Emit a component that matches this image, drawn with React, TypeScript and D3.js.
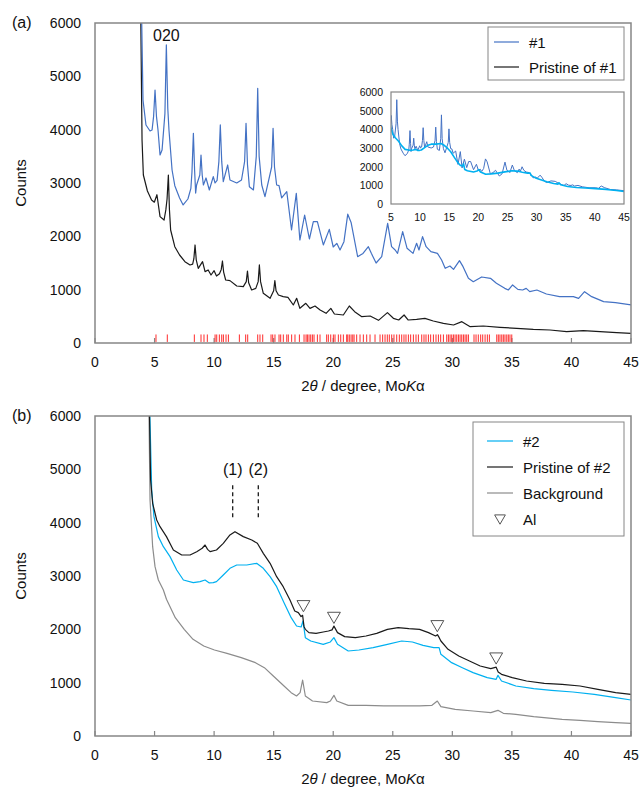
import * as d3 from "d3";
import { useEffect, useRef } from "react";

type Pt = [number, number];

// 2theta (deg) vs counts
const sample1: Pt[] = [
  [3.85, 7000], [4.03, 4556], [4.28, 4088], [4.62, 3975], [4.79, 3994], [4.92, 4250], [5.04, 4744],
  [5.16, 4250], [5.29, 3994], [5.46, 3525], [5.63, 3619], [5.87, 4300], [5.99, 5588], [6.11, 4400],
  [6.21, 3994], [6.47, 3244], [6.7, 2950], [7.1, 2719], [7.4, 2588], [7.8, 2700], [8.05, 2900],
  [8.14, 3200], [8.26, 3932], [8.36, 3250], [8.45, 2812], [8.53, 2963], [8.8, 3150], [8.9, 3525],
  [9.0, 3150], [9.1, 2963], [9.32, 3094], [9.6, 2869], [9.93, 3119], [10.08, 3000], [10.25, 3050],
  [10.4, 3400], [10.52, 4088], [10.64, 3400], [10.77, 3025], [11.14, 3338], [11.33, 3056], [11.9, 3000],
  [12.3, 3056], [12.56, 3400], [12.68, 4119], [12.8, 3350], [12.96, 2931], [13.3, 2869], [13.54, 3500],
  [13.66, 4775], [13.78, 3500], [14.0, 2963], [14.27, 2744], [14.83, 3300], [14.95, 4025], [15.07, 3300],
  [15.25, 2963], [15.45, 2950], [15.67, 2719], [16.1, 2838], [16.5, 2119], [16.9, 2806], [17.2, 1931],
  [17.6, 2400], [18.0, 1950], [18.33, 2275], [18.67, 2275], [19.17, 1838], [19.67, 2130], [20.0, 1800],
  [20.3, 1869], [20.57, 1744], [20.9, 1900], [21.22, 2415], [21.5, 2260], [22.05, 1619], [22.5, 1680],
  [22.95, 1806], [23.2, 1681], [23.6, 1500], [24.07, 1619], [24.57, 2244], [24.9, 1806], [25.2, 1744],
  [25.4, 1681], [25.83, 2088], [26.2, 1775], [26.7, 1681], [27.0, 1869], [27.2, 1744], [27.5, 1994],
  [27.8, 1806], [28.2, 1713], [28.75, 1681], [29.1, 1556], [29.4, 1400], [29.8, 1444], [30.1, 1381],
  [30.6, 1544], [30.9, 1431], [31.35, 1213], [31.76, 1150], [32.46, 1238], [33.2, 1213], [33.7, 1119],
  [34.4, 1025], [34.7, 994], [35.06, 1088], [35.5, 1006], [35.9, 994], [36.2, 1025], [36.5, 963],
  [37.1, 994], [37.9, 919], [39.0, 869], [40.16, 869], [40.6, 838], [41.1, 963], [41.7, 869],
  [42.7, 775], [43.7, 756], [45.0, 713],
];

const pristine1: Pt[] = [
  [3.8, 7000], [3.95, 3800], [4.06, 3150], [4.4, 2850], [4.75, 2680], [4.98, 2640], [5.2, 2780],
  [5.46, 2369], [5.8, 2306], [5.95, 2500], [6.05, 2700], [6.16, 3150], [6.25, 2500], [6.35, 2119],
  [6.7, 1806], [7.1, 1650], [7.55, 1525], [7.98, 1463], [8.2, 1480], [8.3, 1580], [8.4, 1838],
  [8.5, 1560], [8.67, 1400], [9.03, 1525], [9.24, 1338], [9.5, 1369], [9.74, 1275], [10.0, 1356],
  [10.2, 1256], [10.45, 1300], [10.6, 1380], [10.7, 1538], [10.8, 1330], [10.97, 1181], [11.33, 1169],
  [11.9, 1069], [12.45, 1056], [12.7, 1150], [12.8, 1350], [12.9, 1130], [13.15, 994], [13.5, 1025],
  [13.7, 1150], [13.8, 1463], [13.9, 1150], [14.13, 931], [14.7, 838], [15.0, 980], [15.1, 1169],
  [15.2, 980], [15.4, 900], [15.8, 869], [16.2, 856], [16.65, 713], [16.93, 838], [17.2, 650],
  [17.7, 744], [18.05, 650], [18.47, 694], [18.9, 619], [19.4, 556], [19.8, 650], [20.1, 544],
  [20.85, 525], [21.35, 694], [21.8, 588], [22.4, 494], [23.1, 506], [23.8, 425], [24.55, 569],
  [25.05, 463], [25.5, 431], [25.95, 525], [26.3, 431], [27.0, 444], [27.7, 463], [28.4, 413],
  [29.25, 369], [30.1, 338], [30.8, 400], [31.5, 306], [32.6, 319], [34.0, 294], [35.4, 275],
  [36.8, 256], [38.2, 244], [39.6, 213], [41.0, 231], [42.4, 213], [43.8, 194], [45, 181],
];

const sample2: Pt[] = [
  [4.5, 7000], [4.76, 4613], [4.95, 4113], [5.32, 3738], [5.74, 3550], [6.3, 3363], [6.86, 3113],
  [7.42, 2925], [8.25, 2875], [8.82, 2894], [9.24, 2925], [9.6, 2870], [9.93, 2875], [10.2, 2894],
  [10.77, 3019], [11.33, 3144], [11.9, 3206], [12.74, 3206], [13.57, 3238], [14.13, 3144], [14.7, 2988],
  [15.25, 2800], [15.87, 2500], [16.47, 2219], [16.92, 2063], [17.31, 2044], [17.46, 2156], [17.66, 1844],
  [18.11, 1781], [19.16, 1719], [19.76, 1763], [20.06, 1844], [20.36, 1719], [21.26, 1594], [22.16, 1613],
  [23.35, 1656], [24.55, 1719], [25.75, 1781], [26.65, 1763], [27.54, 1700], [28.44, 1656], [28.89, 1656],
  [29.04, 1531], [29.94, 1375], [30.84, 1281], [31.74, 1188], [32.93, 1094], [33.68, 1063], [33.83, 1138],
  [34.13, 1031], [35.33, 938], [36.83, 888], [38.32, 856], [40.12, 825], [41.92, 781], [43.71, 719],
  [45, 675],
];

const pristine2: Pt[] = [
  [4.5, 7000], [4.67, 4800], [4.84, 4363], [5.18, 4050], [5.46, 3925], [6.0, 3738], [6.58, 3488],
  [7.28, 3394], [7.98, 3394], [8.54, 3456], [9.0, 3520], [9.24, 3581], [9.45, 3500], [9.66, 3456],
  [10.2, 3488], [10.77, 3613], [11.33, 3769], [11.75, 3831], [12.45, 3738], [13.16, 3675], [13.63, 3613],
  [14.13, 3425], [14.7, 3238], [15.25, 2988], [15.8, 2800], [16.37, 2550], [16.77, 2344], [17.07, 2313],
  [17.3, 2240], [17.43, 2263], [17.55, 2050], [17.66, 2000], [17.96, 1938], [18.56, 1925], [19.16, 1950],
  [19.6, 1969], [19.9, 1990], [20.06, 2060], [20.36, 1938], [20.96, 1863], [21.86, 1844], [22.75, 1875],
  [23.65, 1925], [24.55, 2000], [25.45, 2031], [26.35, 2013], [27.25, 2000], [28.0, 1938], [28.59, 1875],
  [28.75, 1900], [28.9, 1844], [29.04, 1781], [29.64, 1625], [30.54, 1500], [31.44, 1406], [32.34, 1313],
  [33.23, 1263], [33.68, 1290], [33.85, 1200], [34.13, 1156], [35.03, 1094], [36.23, 1031], [37.72, 988],
  [39.22, 969], [40.72, 938], [42.22, 875], [43.71, 813], [45, 781],
];

const background2: Pt[] = [
  [4.48, 7000], [4.62, 4425], [4.84, 3550], [5.04, 3175], [5.32, 2925], [5.74, 2738], [6.0, 2563],
  [6.74, 2219], [7.49, 2000], [8.23, 1813], [9.13, 1688], [10.03, 1613], [11.08, 1550], [12.28, 1469],
  [13.47, 1375], [14.22, 1281], [14.97, 1125], [15.87, 938], [16.47, 813], [16.92, 750], [17.22, 813],
  [17.43, 1050], [17.66, 750], [18.26, 656], [19.46, 625], [19.76, 656], [20.06, 763], [20.3, 656],
  [21.26, 575], [22.75, 575], [24.25, 563], [25.75, 563], [27.25, 563], [28.29, 575], [28.74, 656],
  [29.04, 550], [30.24, 500], [31.74, 469], [33.23, 438], [33.83, 481], [34.28, 425], [35.33, 406],
  [36.83, 363], [39.22, 313], [40.72, 294], [42.22, 269], [43.71, 250], [45, 238],
];

// reference reflection positions (red ticks)
const refPeaks: number[] = [
  5.12, 6.07, 8.34, 8.9, 9.15, 9.43, 10.08, 10.22, 10.44, 10.64, 10.78, 11.0, 11.2, 12.12, 12.65,
  12.82, 13.66, 13.85, 14.08, 14.78, 14.92, 15.11, 15.45, 15.59, 15.81, 16.1, 16.23, 16.51, 16.79,
  17.16, 17.55, 17.72, 17.83, 17.97, 18.11, 18.25, 18.39, 18.67, 18.89, 19.45, 19.59, 19.79, 20.01,
  20.15, 20.43, 20.63, 20.85, 21.13, 21.22, 21.35, 21.5, 21.64, 21.75, 21.97, 22.25, 22.53, 22.81,
  23.09, 23.51, 23.93, 24.15, 24.35, 24.54, 24.71, 24.91, 25.1, 25.33, 25.55, 25.75, 25.94, 26.11,
  26.31, 26.5, 26.73, 26.95, 27.15, 27.43, 27.62, 27.79, 27.99, 28.18, 28.41, 28.63, 28.83, 29.02,
  29.25, 29.53, 29.67, 29.81, 29.95, 30.09, 30.23, 30.37, 30.51, 30.65, 30.79, 30.93, 31.07, 31.21,
  31.35, 31.82, 31.99, 32.18, 32.38, 32.55, 32.75, 32.94, 33.11, 33.73, 33.86, 34.0, 34.15, 34.28,
  34.42, 34.57, 34.7, 34.84, 34.99,
];

// Al markers (2theta, counts)
const alMarks: Pt[] = [[17.5, 2469], [20.06, 2250], [28.74, 2094], [33.68, 1488]];

const annotations = [
  { label: "(1)", x: 11.56 },
  { label: "(2)", x: 13.71 },
];

const xTicks = [0, 5, 10, 15, 20, 25, 30, 35, 40, 45];
const yTicks = [0, 1000, 2000, 3000, 4000, 5000, 6000];
const insetXTicks = [5, 10, 15, 20, 25, 30, 35, 40, 45];

const FONT = "'Liberation Sans', Arial, sans-serif";
const BLUE = "#4472c4";
const CYAN = "#00b0f0";
const BLACK = "#1a1a1a";
const GRAY = "#8c8c8c";
const FRAME = "#868686";

export default function XrdFigure() {
  const svgRef = useRef<SVGSVGElement>(null);

  useEffect(() => {
    const width = 640, height = 795;
    const svg = d3.select(svgRef.current)
      .attr("width", width)
      .attr("height", height)
      .style("font-family", FONT);
    svg.selectAll("*").remove();
    const defs = svg.append("defs");

    const left = 95, right = 631;
    const x = d3.scaleLinear().domain([0, 45]).range([left, right]);

    function drawPanel(top: number, bottom: number, id: string, tag: string) {
      const y = d3.scaleLinear().domain([0, 6000]).range([bottom, top]);
      defs.append("clipPath").attr("id", id)
        .append("rect").attr("x", left).attr("y", top).attr("width", right - left).attr("height", bottom - top);

      const g = svg.append("g");
      // x ticks (inside)
      g.selectAll("line.xt").data(xTicks).enter().append("line")
        .attr("x1", d => x(d)).attr("x2", d => x(d))
        .attr("y1", bottom).attr("y2", bottom - 5)
        .attr("stroke", FRAME).attr("stroke-width", 1.2);
      g.selectAll("text.xl").data(xTicks).enter().append("text")
        .attr("x", d => x(d)).attr("y", bottom + 19)
        .attr("text-anchor", "middle").attr("dominant-baseline", "central")
        .style("font-size", "14px").attr("fill", "#111")
        .text(d => d);
      g.selectAll("text.yl").data(yTicks).enter().append("text")
        .attr("x", 81).attr("y", d => y(d))
        .attr("text-anchor", "end").attr("dominant-baseline", "central")
        .style("font-size", "14px").attr("fill", "#111")
        .text(d => d);

      g.append("text")
        .attr("transform", `translate(20,${(top + bottom) / 2}) rotate(-90)`)
        .attr("text-anchor", "middle").attr("dominant-baseline", "central")
        .style("font-size", "15px").attr("fill", "#111")
        .text("Counts");

      g.append("text").attr("x", 12).attr("y", top - 1)
        .attr("dominant-baseline", "central")
        .style("font-size", "16px").attr("fill", "#111").text(tag);

      const title = g.append("text")
        .attr("x", (left + right) / 2).attr("y", bottom + 42)
        .attr("text-anchor", "middle").attr("dominant-baseline", "central")
        .style("font-size", "15px").attr("fill", "#111");
      title.append("tspan").text("2");
      title.append("tspan").style("font-style", "italic").text("θ");
      title.append("tspan").text(" / degree, Mo");
      title.append("tspan").style("font-style", "italic").text("K");
      title.append("tspan").text("α");

      const plot = svg.append("g").attr("clip-path", `url(#${id})`);
      const frame = () => svg.append("rect")
        .attr("x", left).attr("y", top).attr("width", right - left).attr("height", bottom - top)
        .attr("fill", "none").attr("stroke", FRAME).attr("stroke-width", 1.5);
      return { y, plot, frame };
    }

    const addLine = (g: d3.Selection<SVGGElement, unknown, null, undefined>, data: Pt[],
      xs: d3.ScaleLinear<number, number>, ys: d3.ScaleLinear<number, number>, color: string, w: number) => {
      const line = d3.line<Pt>().x(d => xs(d[0])).y(d => ys(d[1]));
      g.append("path").datum(data)
        .attr("d", line).attr("fill", "none")
        .attr("stroke", color).attr("stroke-width", w)
        .attr("stroke-linejoin", "round");
    };

    // ---------- panel (a)
    const a = drawPanel(23, 343, "clipA", "(a)");
    addLine(a.plot, pristine1, x, a.y, BLACK, 1.2);
    addLine(a.plot, sample1, x, a.y, BLUE, 1.2);
    a.plot.selectAll("line.ref").data(refPeaks).enter().append("line")
      .attr("x1", d => x(d)).attr("x2", d => x(d))
      .attr("y1", a.y(20)).attr("y2", a.y(160))
      .attr("stroke", "#ff2a2a").attr("stroke-width", 1);
    a.frame();

    svg.append("text").attr("x", x(5.99)).attr("y", 35)
      .attr("text-anchor", "middle").attr("dominant-baseline", "central")
      .style("font-size", "16px").attr("fill", "#111").text("020");

    // legend (a)
    const legA = svg.append("g");
    legA.append("rect").attr("x", 488).attr("y", 27).attr("width", 136).attr("height", 53)
      .attr("fill", "#fff").attr("stroke", FRAME).attr("stroke-width", 1);
    [{ label: "#1", color: BLUE }, { label: "Pristine of #1", color: BLACK }].forEach((e, i) => {
      const yy = 42 + i * 25;
      legA.append("line").attr("x1", 494).attr("x2", 519).attr("y1", yy).attr("y2", yy)
        .attr("stroke", e.color).attr("stroke-width", 1.2);
      legA.append("text").attr("x", 529).attr("y", yy).attr("dominant-baseline", "central")
        .style("font-size", "15px").attr("fill", "#111").text(e.label);
    });

    // inset
    const ix = d3.scaleLinear().domain([5, 45]).range([391, 624]);
    const iy = d3.scaleLinear().domain([0, 6000]).range([204, 92]);
    defs.append("clipPath").attr("id", "clipI").append("rect")
      .attr("x", 391).attr("y", 92).attr("width", 233).attr("height", 112);
    svg.append("rect").attr("x", 391).attr("y", 92).attr("width", 233).attr("height", 112)
      .attr("fill", "#fff");
    const ip = svg.append("g").attr("clip-path", "url(#clipI)");
    addLine(ip, sample1, ix, iy, BLUE, 1);
    addLine(ip, sample2, ix, iy, CYAN, 1.6);
    svg.append("rect").attr("x", 391).attr("y", 92).attr("width", 233).attr("height", 112)
      .attr("fill", "none").attr("stroke", FRAME).attr("stroke-width", 1.2);
    svg.selectAll("text.iyl").data(yTicks).enter().append("text")
      .attr("x", 383).attr("y", d => iy(d)).attr("text-anchor", "end")
      .attr("dominant-baseline", "central").style("font-size", "10.5px").attr("fill", "#111")
      .text(d => d);
    svg.selectAll("text.ixl").data(insetXTicks).enter().append("text")
      .attr("x", d => ix(d)).attr("y", 217).attr("text-anchor", "middle")
      .attr("dominant-baseline", "central").style("font-size", "10.5px").attr("fill", "#111")
      .text(d => d);

    // ---------- panel (b)
    const b = drawPanel(416, 736, "clipB", "(b)");
    addLine(b.plot, background2, x, b.y, GRAY, 1.2);
    addLine(b.plot, sample2, x, b.y, CYAN, 1.2);
    addLine(b.plot, pristine2, x, b.y, BLACK, 1.2);
    b.frame();

    const tri = d3.symbol().type(d3.symbolTriangle).size(72);
    svg.selectAll("path.al").data(alMarks).enter().append("path")
      .attr("d", tri)
      .attr("transform", d => `translate(${x(d[0])},${b.y(d[1])}) rotate(180)`)
      .attr("fill", "#fff").attr("stroke", "#555").attr("stroke-width", 1);

    annotations.forEach(an => {
      svg.append("line")
        .attr("x1", x(an.x)).attr("x2", x(an.x))
        .attr("y1", b.y(4700)).attr("y2", b.y(4050))
        .attr("stroke", BLACK).attr("stroke-width", 1.3).attr("stroke-dasharray", "4,3");
      svg.append("text").attr("x", x(an.x)).attr("y", b.y(4990))
        .attr("text-anchor", "middle").attr("dominant-baseline", "central")
        .style("font-size", "16px").attr("fill", "#111").text(an.label);
    });

    // legend (b)
    const legB = svg.append("g");
    legB.append("rect").attr("x", 473).attr("y", 422).attr("width", 151).attr("height", 114)
      .attr("fill", "#fff").attr("stroke", FRAME).attr("stroke-width", 1);
    const legItems = [
      { label: "#2", color: CYAN },
      { label: "Pristine of #2", color: BLACK },
      { label: "Background", color: GRAY },
      { label: "Al", color: "" },
    ];
    legItems.forEach((e, i) => {
      const yy = 441 + i * 26;
      if (e.color) {
        legB.append("line").attr("x1", 487).attr("x2", 513).attr("y1", yy).attr("y2", yy)
          .attr("stroke", e.color).attr("stroke-width", 1.2);
      } else {
        legB.append("path").attr("d", d3.symbol().type(d3.symbolTriangle).size(50))
          .attr("transform", `translate(500,${yy - 1}) rotate(180)`)
          .attr("fill", "#fff").attr("stroke", "#555").attr("stroke-width", 1);
      }
      legB.append("text").attr("x", 523).attr("y", yy).attr("dominant-baseline", "central")
        .style("font-size", "15px").attr("fill", "#111").text(e.label);
    });
  }, []);

  return (
    <div style={{ position: "absolute", left: 0, top: 0, width: 640, height: 795, background: "#fff" }}>
      <svg ref={svgRef}></svg>
    </div>
  );
}
